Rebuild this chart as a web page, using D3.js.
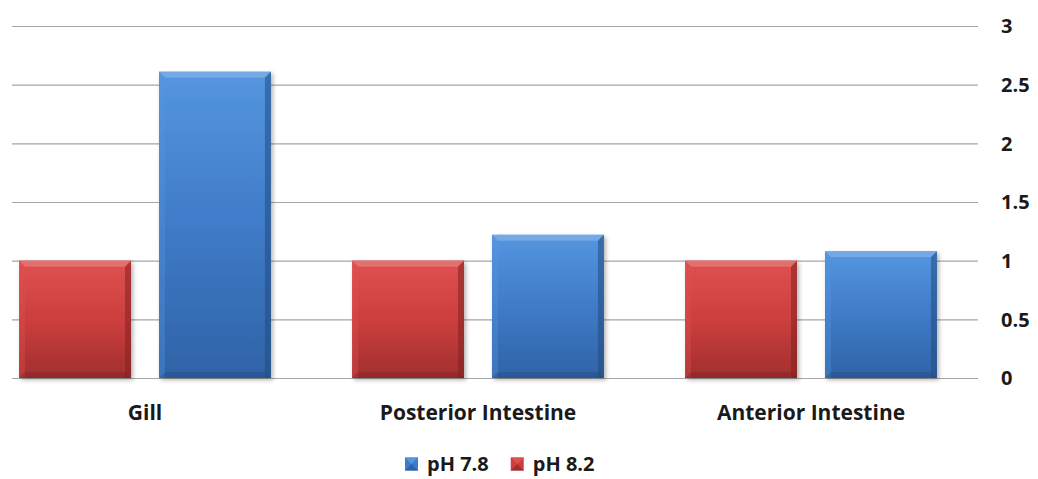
<!DOCTYPE html>
<html>
<head>
<meta charset="utf-8">
<script src="https://cdn.jsdelivr.net/npm/d3@7"></script>
<style>
  html, body { margin: 0; background: #fff; overflow: hidden; }
  svg { display: block; }
  text { font-family: "Open Sans", "DejaVu Sans", sans-serif; font-weight: 700; fill: #1a1a1a; }
</style>
</head>
<body>
<div id="vis"></div>
<script>
// Relative expression by tissue, two pH treatments (red first, then blue).
const CATEGORIES = ["Gill", "Posterior Intestine", "Anterior Intestine"];
const SERIES     = ["pH 8.2", "pH 7.8"];
const PH82       = [1, 1, 1];
const PH78       = [2.61, 1.22, 1.08];
const Y_TICKS    = [0, 0.5, 1, 1.5, 2, 2.5, 3];
const LEGEND     = ["pH 7.8", "pH 8.2"];

const COLORS = {
  "pH 8.2": { light: "#df5050", mid: "#cc3f3e", dark: "#a22e2e", edge: "#7f2222" },
  "pH 7.8": { light: "#5596e0", mid: "#3f7bc8", dark: "#2f63a6", edge: "#234a7e" },
};

const W = 1038, H = 479;

const rows = CATEGORIES.map((c, i) => ({ cat: c, "pH 8.2": PH82[i], "pH 7.8": PH78[i] }));

const svg = d3.select("#vis").append("svg").attr("width", W).attr("height", H);
const defs = svg.append("defs");

Object.entries(COLORS).forEach(([k, c]) => {
  const id = k.replace(/\W/g, "");
  const gv = defs.append("linearGradient").attr("id", "v" + id)
    .attr("x1", 0).attr("y1", 0).attr("x2", 0).attr("y2", 1);
  gv.append("stop").attr("offset", "0%").attr("stop-color", c.light);
  gv.append("stop").attr("offset", "50%").attr("stop-color", c.mid);
  gv.append("stop").attr("offset", "100%").attr("stop-color", c.dark);
});

const shadow = defs.append("filter").attr("id", "shadow")
  .attr("x", "-10%").attr("y", "-10%").attr("width", "130%").attr("height", "130%");
shadow.append("feDropShadow").attr("dx", 2).attr("dy", 2).attr("stdDeviation", 2)
  .attr("flood-color", "#000").attr("flood-opacity", 0.3);

const x0 = d3.scaleBand().domain(CATEGORIES).range([-21.5, 977.5]).padding(0);
const x1 = d3.scaleBand().domain(SERIES).range([0, x0.bandwidth()])
  .paddingInner(0.2).paddingOuter(0.29);
const y = d3.scaleLinear().domain([0, 3]).range([378, 26]);

// gridlines
svg.append("g").selectAll("line").data(Y_TICKS).join("line")
  .attr("x1", 12).attr("x2", 978)
  .attr("y1", d => y(d) + 0.5).attr("y2", d => y(d) + 0.5)
  .attr("stroke", "#a6a6a6").attr("stroke-width", 1.2);

// right axis labels
svg.append("g").selectAll("text").data(Y_TICKS).join("text")
  .attr("x", 1001).attr("y", d => y(d)).attr("dy", "0.36em")
  .style("font-size", "20px")
  .text(d => d3.format("")(d));

// bars
const bevel = 6;
const groups = svg.append("g").selectAll("g").data(rows).join("g")
  .attr("transform", d => `translate(${x0(d.cat)},0)`);

groups.each(function (d) {
  const gEl = d3.select(this);
  SERIES.forEach(s => {
    const c = COLORS[s];
    const bx = x1(s), bw = x1.bandwidth();
    const top = y(d[s]), bot = y(0), bh = bot - top;
    const bar = gEl.append("g");
    bar.append("rect").attr("x", bx).attr("y", top).attr("width", bw).attr("height", bh)
      .attr("fill", `url(#v${s.replace(/\W/g, "")})`).attr("filter", "url(#shadow)");
    // bevel: top highlight
    bar.append("path")
      .attr("d", `M${bx},${top}L${bx + bw},${top}L${bx + bw - bevel},${top + bevel}L${bx + bevel},${top + bevel}Z`)
      .attr("fill", c.light).attr("opacity", 0.9);
    bar.append("path")
      .attr("d", `M${bx},${top}L${bx + bw},${top}L${bx + bw - bevel},${top + bevel}L${bx + bevel},${top + bevel}Z`)
      .attr("fill", "#fff").attr("opacity", 0.18);
    // right edge shade
    bar.append("path")
      .attr("d", `M${bx + bw},${top}L${bx + bw},${bot}L${bx + bw - bevel},${bot}L${bx + bw - bevel},${top + bevel}Z`)
      .attr("fill", c.edge).attr("opacity", 0.55);
    // left edge light
    bar.append("path")
      .attr("d", `M${bx},${top}L${bx + bevel},${top + bevel}L${bx + bevel},${bot}L${bx},${bot}Z`)
      .attr("fill", c.light).attr("opacity", 0.35);
    // bottom edge
    bar.append("path")
      .attr("d", `M${bx},${bot}L${bx + bevel},${bot - bevel}L${bx + bw - bevel},${bot - bevel}L${bx + bw},${bot}Z`)
      .attr("fill", c.edge).attr("opacity", 0.4);
  });
});

// category labels
svg.append("g").selectAll("text").data(CATEGORIES).join("text")
  .attr("x", d => x0(d) + x0.bandwidth() / 2).attr("y", 412).attr("dy", "0.36em")
  .attr("text-anchor", "middle").style("font-size", "21px")
  .text(d => d);

// legend
const legend = svg.append("g").attr("transform", "translate(405,464)");
let lx = 0;
LEGEND.forEach(s => {
  const c = COLORS[s];
  const item = legend.append("g").attr("transform", `translate(${lx},0)`);
  item.append("rect").attr("x", 0).attr("y", -6.5).attr("width", 13).attr("height", 13)
    .attr("fill", c.mid);
  item.append("path").attr("d", "M0,-6.5L13,-6.5L6.5,0Z").attr("fill", c.light);
  item.append("path").attr("d", "M0,6.5L13,6.5L6.5,0Z").attr("fill", c.dark);
  const t = item.append("text").attr("x", 22).attr("y", 0).attr("dy", "0.36em")
    .style("font-size", "20px").text(s);
  lx += 22 + t.node().getComputedTextLength() + 22;
});
</script>
</body>
</html>
